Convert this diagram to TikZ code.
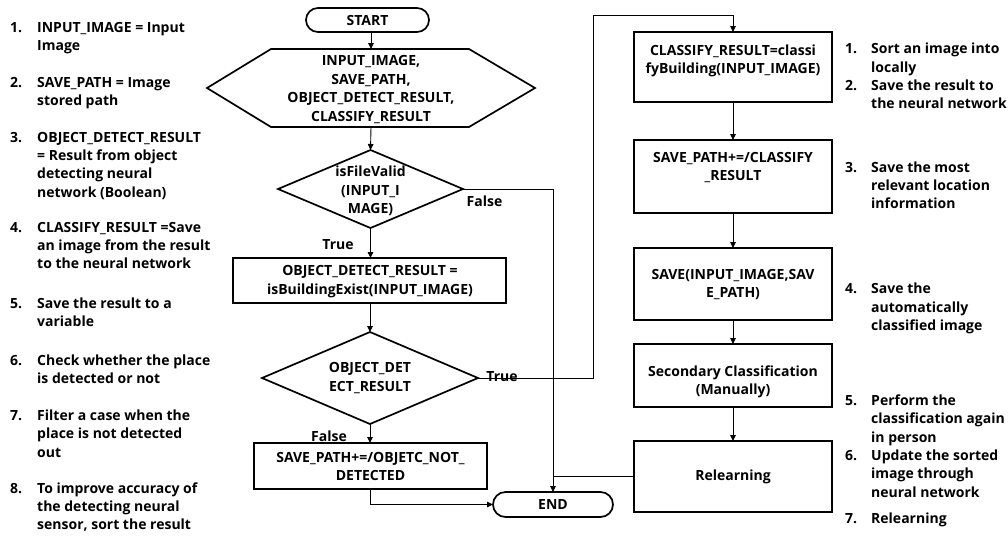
\documentclass[tikz,border=0pt]{standalone}
\usepackage{fontspec}
\setmainfont{Open Sans}
\usetikzlibrary{shapes.geometric,shapes.misc,arrows.meta}
\newcommand{\txl}[4]{\node[lst] (#1) at (#2,#3) {#4};}
\begin{document}
\begin{tikzpicture}[x=1pt,y=-1pt,
  every node/.style={font=\bfseries\fontsize{14}{18.4}\selectfont},
  lst/.style={anchor=base west, inner sep=0pt},
  ctext/.style={align=center, inner sep=0pt},
  shp/.style={draw, line width=1.7pt, inner sep=0pt, outer sep=0pt},
  inv/.style={inner sep=0pt, outer sep=0pt},
  boxn/.style={shp, rectangle},
  dia/.style={shp, diamond},
  term/.style={shp, rounded rectangle},
  conn/.style={line width=0.9pt},
  arr/.style={conn, -{Triangle[length=6pt,width=5.5pt]}},
  lbl/.style={inner sep=0pt}
]
\useasboundingbox[fill=white] (0,0) rectangle (1008,539);

% ---- central flow ----
\node[term, minimum width=123pt, minimum height=24pt] (start) at (367.5,20) {START};
\node[inv, minimum width=328pt, minimum height=78pt] (hex) at (371,88) {};
\draw[shp] (hex.west) -- ([xshift=64pt]hex.north west) -- ([xshift=-66pt]hex.north east)
  -- (hex.east) -- ([xshift=-66pt]hex.south east) -- ([xshift=64pt]hex.south west) -- cycle;
\node[ctext] (hext) at (371,89.5) {INPUT\_IMAGE,\\SAVE\_PATH,\\OBJECT\_DETECT\_RESULT,\\CLASSIFY\_RESULT};

\node[dia, minimum width=185pt, minimum height=78pt] (d1) at (370.5,189) {};
\node[ctext] (d1t) at (370.5,191) {isFileValid\\(INPUT\_I\\MAGE)};

\node[boxn, minimum width=273pt, minimum height=45pt] (odr) at (369.5,280.5) {};
\node[ctext] (odrt) at (370,281.5) {OBJECT\_DETECT\_RESULT =\\isBuildingExist(INPUT\_IMAGE)};

\node[dia, minimum width=216pt, minimum height=92pt] (d2) at (370,378) {};
\node[ctext] (d2t) at (370,378) {OBJECT\_DET\\ECT\_RESULT};

\node[boxn, minimum width=233pt, minimum height=46pt] (sp) at (370.5,466) {};
\node[ctext] (spt) at (370.5,466.5) {SAVE\_PATH+=/OBJETC\_NOT\_\\DETECTED};

\node[term, minimum width=120pt, minimum height=25pt] (end) at (553,504.5) {END};

% ---- right column ----
\node[boxn, minimum width=198pt, minimum height=70pt] (b1) at (733,67) {};
\node[ctext] (b1t) at (733,61) {CLASSIFY\_RESULT=classi\\fyBuilding(INPUT\_IMAGE)};
\node[boxn, minimum width=198pt, minimum height=73pt] (b2) at (733,176.5) {};
\node[ctext] (b2t) at (733,167.5) {SAVE\_PATH+=/CLASSIFY\\\_RESULT};
\node[boxn, minimum width=198pt, minimum height=72pt] (b3) at (733,284) {};
\node[ctext] (b3t) at (733,284.5) {SAVE(INPUT\_IMAGE,SAV\\E\_PATH)};
\node[boxn, minimum width=198pt, minimum height=63pt] (b4) at (733,375.5) {};
\node[ctext] (b4t) at (733,382) {Secondary Classification\\(Manually)};
\node[boxn, minimum width=198pt, minimum height=71pt] (b5) at (733,476.5) {};
\node[ctext] (b5t) at (733,477) {Relearning};

\coordinate (loopA) at (593,15);

% ---- connectors ----
\draw[arr] (start.south -| hex.north) -- (hex.north);
\draw[arr] (hex.south) -- (d1.north);
\draw[arr] (d1.south) -- (odr.north -| d1.south);
\draw[arr] (odr.south -| d2.north) -- (d2.north);
\draw[arr] (d2.south) -- (sp.north -| d2.south);
\draw[arr] (d1.east) -| (end.north);
\draw[conn] (b5.west) -- (b5.west -| end.north);
\draw[arr] (sp.south) |- (end.west);
\draw[arr] (d2.east) -| (loopA) -| (b1.north);
\draw[arr] (b1.south) -- (b2.north);
\draw[arr] (b2.south) -- (b3.north);
\draw[arr] (b3.south) -- (b4.north);
\draw[arr] (b4.south) -- (b5.north);

% ---- connector labels ----
\node[lbl] (lf1) at (484.5,201) {False};
\node[lbl] (lt1) at (338,245) {True};
\node[lbl] (lt2) at (502,377) {True};
\node[lbl] (lf2) at (329,436) {False};

% ---- left list ----
\txl{n1}{10}{32}{1.}  \txl{a1}{37}{32}{INPUT\_IMAGE = Input} \txl{a1b}{37}{50}{Image}
\txl{n2}{10}{87}{2.}  \txl{a2}{37}{87}{SAVE\_PATH = Image} \txl{a2b}{37}{105}{stored path}
\txl{n3}{10}{142}{3.} \txl{a3}{37}{142}{OBJECT\_DETECT\_RESULT} \txl{a3b}{37}{160}{= Result from object}
  \txl{a3c}{37}{178}{detecting neural} \txl{a3d}{37}{197}{network (Boolean)}
\txl{n4}{10}{232}{4.} \txl{a4}{37}{232}{CLASSIFY\_RESULT =Save} \txl{a4b}{37}{250}{an image from the result}
  \txl{a4c}{37}{268}{to the neural network}
\txl{n5}{10}{308}{5.} \txl{a5}{37}{308}{Save the result to a} \txl{a5b}{37}{326}{variable}
\txl{n6}{10}{365}{6.} \txl{a6}{37}{365}{Check whether the place} \txl{a6b}{37}{383}{is detected or not}
\txl{n7}{10}{420}{7.} \txl{a7}{37}{420}{Filter a case when the} \txl{a7b}{37}{438}{place is not detected}
  \txl{a7c}{37}{457}{out}
\txl{n8}{10}{493}{8.} \txl{a8}{37}{493}{To improve accuracy of} \txl{a8b}{37}{511}{the detecting neural}
  \txl{a8c}{37}{529}{sensor, sort the result}

% ---- right list ----
\txl{m1}{845}{53}{1.} \txl{c1}{871}{53}{Sort an image into} \txl{c1b}{871}{72}{locally}
\txl{m2}{845}{90}{2.} \txl{c2}{871}{90}{Save the result to} \txl{c2b}{871}{108}{the neural network}
\txl{m3}{845}{172}{3.} \txl{c3}{871}{172}{Save the most} \txl{c3b}{871}{190}{relevant location}
  \txl{c3c}{871}{208}{information}
\txl{m4}{845}{293}{4.} \txl{c4}{871}{293}{Save the} \txl{c4b}{871}{312}{automatically}
  \txl{c4c}{871}{330}{classified image}
\txl{m5}{845}{405}{5.} \txl{c5}{871}{405}{Perform the} \txl{c5b}{871}{423}{classification again}
  \txl{c5c}{871}{442}{in person}
\txl{m6}{845}{460}{6.} \txl{c6}{871}{460}{Update the sorted} \txl{c6b}{871}{478}{image through}
  \txl{c6c}{871}{497}{neural network}
\txl{m7}{845}{523}{7.} \txl{c7}{871}{523}{Relearning}
\end{tikzpicture}
\end{document}
